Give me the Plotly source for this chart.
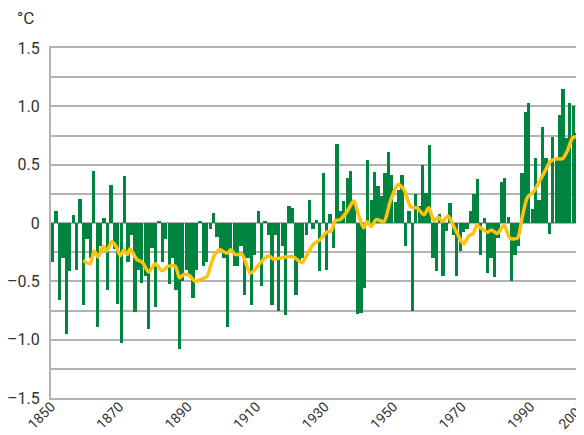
import plotly.graph_objects as go

years = list(range(1850, 2005))
anomaly = [
    -0.33, 0.10, -0.66, -0.30, -0.95, -0.41, 0.07, -0.40, 0.21, -0.70,   # 1850s
    -0.14, -0.30, 0.45, -0.89, -0.20, 0.04, -0.57, 0.33, -0.22, -0.69,   # 1860s
    -1.03, 0.40, -0.33, -0.10, -0.76, -0.40, -0.51, -0.45, -0.91, -0.21, # 1870s
    -0.72, 0.02, -0.33, -0.14, -0.52, -0.30, -0.57, -1.08, -0.50, -0.40, # 1880s
    -0.45, -0.64, -0.40, 0.01, -0.37, -0.33, -0.05, 0.09, -0.12, -0.24,  # 1890s
    -0.30, -0.89, -0.25, -0.37, -0.37, -0.20, -0.62, -0.30, -0.70, -0.27,# 1900s
    0.10, -0.54, 0.01, -0.10, -0.70, -0.10, -0.75, -0.20, -0.79, 0.15,   # 1910s
    0.13, -0.62, -0.33, -0.30, -0.10, 0.20, -0.05, 0.03, -0.41, 0.43,    # 1920s
    -0.40, 0.08, -0.21, 0.68, 0.10, 0.19, 0.39, 0.45, 0.19, -0.78,       # 1930s
    -0.77, -0.56, 0.54, 0.20, 0.44, 0.32, 0.23, 0.43, 0.61, 0.41,        # 1940s
    0.18, 0.28, 0.41, -0.20, 0.10, -0.75, 0.25, 0.15, 0.50, 0.26,        # 1950s
    0.67, -0.30, -0.41, 0.08, -0.45, -0.07, 0.17, -0.10, -0.45, -0.24,   # 1960s
    -0.08, -0.05, 0.10, 0.25, 0.38, -0.27, 0.04, -0.43, -0.30, -0.46,    # 1970s
    -0.13, 0.35, 0.39, 0.05, -0.50, -0.27, -0.20, 0.43, 0.95, 1.03,      # 1980s
    0.12, 0.56, 0.20, 0.82, 0.56, -0.09, 0.74, 0.56, 0.93, 1.15,         # 1990s
    0.73, 1.03, 1.00, 0.77, 0.64,                                        # 2000s
]

smooth_x = [
    1859.4, 1861.4, 1862.6, 1863.8, 1865.3, 1866.3, 1867.7, 1869.0, 1870.2, 1871.3,
    1872.3, 1873.1, 1875.0, 1876.8, 1878.5, 1880.4, 1882.4, 1884.3, 1886.3, 1887.5,
    1888.9, 1890.4, 1892.1, 1894.0, 1895.5, 1897.0, 1898.0, 1899.4, 1901.4, 1902.5,
    1903.8, 1905.8, 1908.2, 1910.1, 1912.1, 1913.5, 1915.0, 1917.0, 1918.9, 1920.8,
    1923.3, 1924.8, 1926.7, 1928.7, 1930.4, 1931.8, 1933.0, 1934.5, 1936.5, 1938.4,
    1939.9, 1941.3, 1942.3, 1943.5, 1945.0, 1947.2, 1949.1, 1951.3, 1953.0, 1955.0,
    1956.9, 1958.9, 1960.3, 1961.8, 1963.2, 1964.2, 1965.9, 1967.6, 1968.8, 1970.4,
    1972.0, 1973.3, 1974.3, 1975.9, 1977.4, 1978.6, 1980.3, 1982.3, 1984.0, 1986.2,
    1987.6, 1989.1, 1991.0, 1992.5, 1994.0, 1995.9, 1997.9, 1999.3, 2000.8, 2002.3,
    2003.7,
]
smooth_y = [
    -0.32, -0.35, -0.24, -0.29, -0.20, -0.24, -0.16, -0.20, -0.28, -0.23,
    -0.27, -0.22, -0.31, -0.34, -0.42, -0.35, -0.41, -0.37, -0.37, -0.47,
    -0.44, -0.45, -0.50, -0.48, -0.46, -0.33, -0.26, -0.23, -0.26, -0.23,
    -0.27, -0.27, -0.43, -0.38, -0.31, -0.28, -0.31, -0.30, -0.29, -0.29,
    -0.34, -0.27, -0.18, -0.14, -0.08, -0.07, 0.02, 0.03, 0.10, 0.19,
    0.06, -0.04, 0.01, -0.03, 0.03, 0.01, 0.19, 0.33, 0.29, 0.14,
    0.13, 0.07, 0.13, 0.02, 0.05, 0.01, 0.06, -0.03, -0.10, -0.18,
    -0.11, -0.09, -0.02, -0.05, -0.08, -0.06, -0.09, -0.02, -0.13, -0.13,
    0.05, 0.22, 0.27, 0.35, 0.43, 0.53, 0.55, 0.55, 0.62, 0.73,
    0.74,
]

x_tick_labels = ["1850", "1870", "1890", "1910", "1930", "1950", "1970", "1990", "2005"]
x_tick_vals = [1850, 1870, 1890, 1910, 1930, 1950, 1970, 1990, 2005]
y_tick_vals = [-1.5, -1.25, -1.0, -0.75, -0.5, -0.25, 0, 0.25, 0.5, 0.75, 1.0, 1.25, 1.5]
y_tick_text = ["\u20131.5", "", "\u20131.0", "", "\u20130.5", "", "0", "", "0.5", "", "1.0", "", "1.5"]

FONT = "Roboto, Liberation Sans, sans-serif"
GREEN = "#00843f"
YELLOW = "#ffc20e"
GRID = "#b3b3b3"

fig = go.Figure()
fig.add_trace(go.Bar(
    x=[y + 0.5 for y in years], y=anomaly, width=0.96,
    marker=dict(color=GREEN, line=dict(width=0)), showlegend=False,
))
fig.add_trace(go.Scatter(
    x=smooth_x, y=smooth_y, mode="lines",
    line=dict(color=YELLOW, width=3.5, shape="spline", smoothing=0.7),
    showlegend=False,
))

# page body has an 8px default margin, so the figure is 8px smaller than the window
fig.update_layout(
    width=576, height=427,
    margin=dict(l=43, r=2, t=40, b=37),
    paper_bgcolor="white", plot_bgcolor="white",
    bargap=0,
    font=dict(family=FONT, size=16, color="#333333"),
    xaxis=dict(
        range=[1850, 2005.05], tickmode="array", tickvals=x_tick_vals,
        ticktext=x_tick_labels, tickangle=-45, automargin=False,
        ticklabeloverflow="allow",
        showgrid=False, zeroline=False,
        showline=True, linecolor=GRID, linewidth=2, mirror=True,
        ticks="", ticklabelstandoff=-7, tickfont=dict(size=14),
    ),
    yaxis=dict(
        range=[-1.5, 1.5], tickmode="array", tickvals=y_tick_vals, ticktext=y_tick_text,
        automargin=False,
        showgrid=True, gridcolor=GRID, gridwidth=1.5, zeroline=False,
        showline=True, linecolor=GRID, linewidth=2, mirror=True,
        ticks="", ticklabelstandoff=6, tickfont=dict(size=16),
    ),
    annotations=[dict(
        text="\u00b0C", xref="paper", yref="paper", x=-0.068, y=1.086,
        xanchor="left", yanchor="middle", showarrow=False,
        font=dict(family=FONT, size=17, color="#333333"),
    )],
)

fig.write_html("out.html")
